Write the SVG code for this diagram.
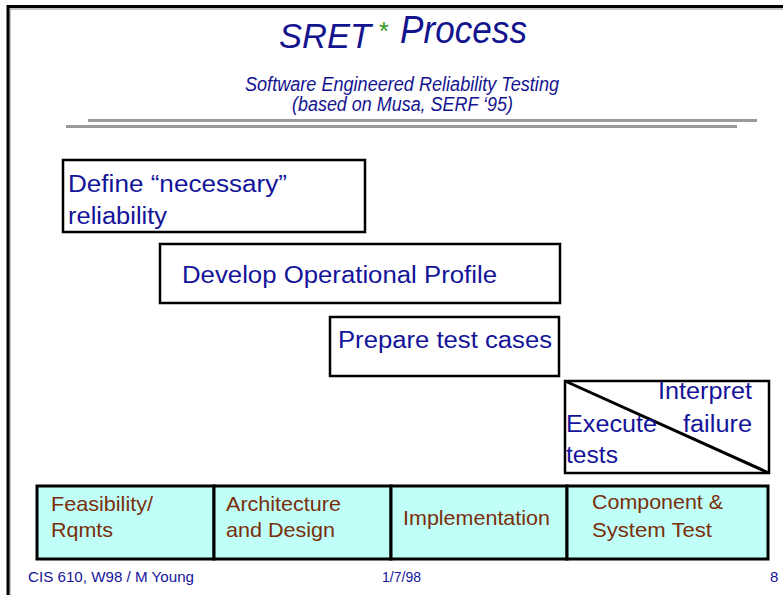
<svg xmlns="http://www.w3.org/2000/svg" width="783" height="595" viewBox="0 0 783 595">
  <style>
    text { font-family: "Liberation Sans", Arial, sans-serif; }
    .ttl { font-style: italic; fill: #14148f; }
    .star { fill: #33991a; }
    .body { font-size: 23px; fill: #14149a; }
    .phase { font-size: 21px; fill: #7a2e0a; }
    .foot { font-size: 15px; fill: #14149a; }
    .box { fill: #ffffff; stroke: #000000; stroke-width: 2.5; }
    .cell { fill: #c0fff8; stroke: #000000; stroke-width: 3; }
    .rule { stroke: #9a9a9a; stroke-width: 3; }
  </style>

  <!-- slide frame -->
  <path d="M10,595 V9 H783" fill="none" stroke="#b0b0b0" stroke-width="1.5"/>
  <path d="M8,595 V6.5 H783" fill="none" stroke="#000000" stroke-width="3"/>

  <!-- heading -->
  <g id="heading">
    <text class="ttl" x="279" y="48" font-size="34.5">SRET</text>
    <text class="star" x="379" y="40" font-size="25">*</text>
    <text class="ttl" x="400" y="43" font-size="38" textLength="127" lengthAdjust="spacingAndGlyphs">Process</text>
    <text class="ttl" x="245" y="91" font-size="19.5" textLength="314" lengthAdjust="spacingAndGlyphs">Software Engineered Reliability Testing</text>
    <text class="ttl" x="292" y="111" font-size="19.5" textLength="221" lengthAdjust="spacingAndGlyphs">(based on Musa, SERF ‘95)</text>
    <line class="rule" x1="88" y1="120.5" x2="757" y2="120.5"/>
    <line class="rule" x1="66" y1="126.5" x2="737" y2="126.5"/>
  </g>

  <!-- activities -->
  <g id="define">
    <rect class="box" x="63" y="160" width="302" height="72"/>
    <text class="body" x="68" y="192" textLength="219" lengthAdjust="spacingAndGlyphs">Define “necessary”</text>
    <text class="body" x="68" y="224" textLength="99" lengthAdjust="spacingAndGlyphs">reliability</text>
  </g>

  <g id="develop">
    <rect class="box" x="160" y="244" width="400" height="59"/>
    <text class="body" x="182" y="283" textLength="315" lengthAdjust="spacingAndGlyphs">Develop Operational Profile</text>
  </g>

  <g id="prepare">
    <rect class="box" x="330" y="317" width="229" height="59"/>
    <text class="body" x="338" y="348" textLength="214" lengthAdjust="spacingAndGlyphs">Prepare test cases</text>
  </g>

  <g id="execute">
    <rect class="box" x="565" y="381" width="204" height="92"/>
    <line x1="565" y1="381" x2="769" y2="473" stroke="#000000" stroke-width="3"/>
    <text class="body" x="658" y="399" textLength="94" lengthAdjust="spacingAndGlyphs">Interpret</text>
    <text class="body" x="683" y="432" textLength="69" lengthAdjust="spacingAndGlyphs">failure</text>
    <text class="body" x="566" y="432" textLength="91" lengthAdjust="spacingAndGlyphs">Execute</text>
    <text class="body" x="566" y="463" textLength="52" lengthAdjust="spacingAndGlyphs">tests</text>
  </g>

  <!-- lifecycle phases -->
  <g id="phase-feasibility">
    <rect class="cell" x="37" y="486" width="177" height="73"/>
    <text class="phase" x="51" y="511" textLength="102" lengthAdjust="spacingAndGlyphs">Feasibility/</text>
    <text class="phase" x="51" y="537" textLength="62" lengthAdjust="spacingAndGlyphs">Rqmts</text>
  </g>
  <g id="phase-architecture">
    <rect class="cell" x="214" y="486" width="177" height="73"/>
    <text class="phase" x="226" y="511" textLength="115" lengthAdjust="spacingAndGlyphs">Architecture</text>
    <text class="phase" x="226" y="537" textLength="109" lengthAdjust="spacingAndGlyphs">and Design</text>
  </g>
  <g id="phase-implementation">
    <rect class="cell" x="391" y="486" width="176" height="73"/>
    <text class="phase" x="403" y="525" textLength="147" lengthAdjust="spacingAndGlyphs">Implementation</text>
  </g>
  <g id="phase-test">
    <rect class="cell" x="567" y="486" width="201" height="73"/>
    <text class="phase" x="592" y="509" textLength="131" lengthAdjust="spacingAndGlyphs">Component &amp;</text>
    <text class="phase" x="592" y="537" textLength="120" lengthAdjust="spacingAndGlyphs">System Test</text>
  </g>

  <!-- footer -->
  <g id="footer">
    <text class="foot" x="28" y="582" textLength="166" lengthAdjust="spacingAndGlyphs">CIS 610, W98 / M Young</text>
    <text class="foot" x="382" y="582" textLength="39" lengthAdjust="spacingAndGlyphs">1/7/98</text>
    <text class="foot" x="770" y="582">8</text>
  </g>
</svg>
